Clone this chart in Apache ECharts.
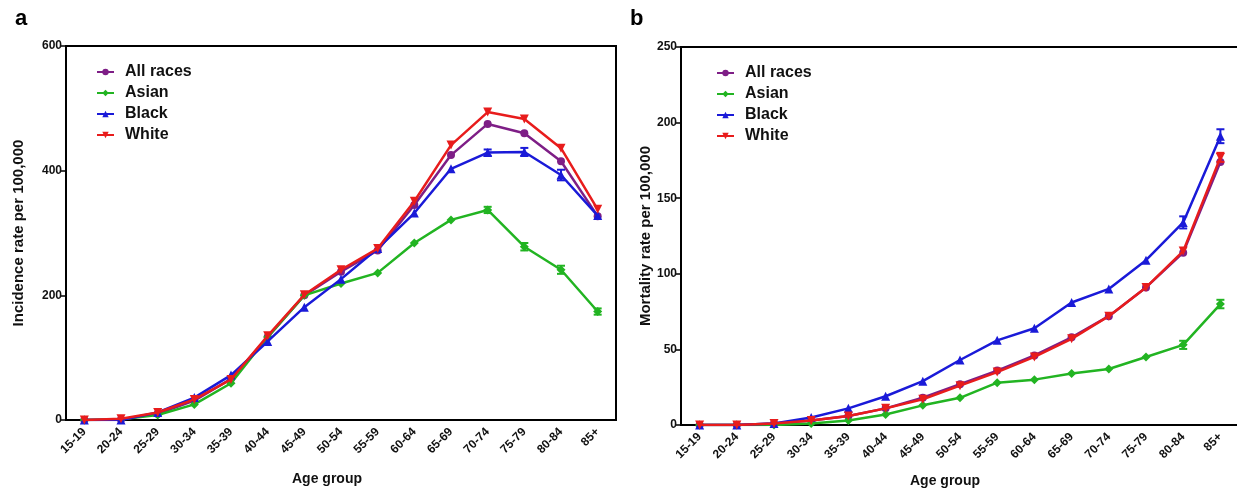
<!DOCTYPE html>
<html><head><meta charset="utf-8">
<script src="https://cdn.jsdelivr.net/npm/echarts@6/dist/echarts.min.js"></script>
<style>html,body{margin:0;padding:0;background:#fff}#c{width:1237px;height:490px}</style>
</head><body><div id="c"></div>
<script>
const categories = ['15-19','20-24','25-29','30-34','35-39','40-44','45-49','50-54','55-59','60-64','65-69','70-74','75-79','80-84','85+'];
const seriesNames = ['All races','Asian','Black','White'];

// Panel a: incidence per 100,000
const incAll   = [0, 1, 10, 31, 66, 133, 200, 238, 272, 345, 425, 475, 460, 415, 327];
const incAsian = [0, 1, 8, 25, 59, 133, 200, 219, 236, 284, 321, 337, 278, 241, 174];
const incBlack = [0, 0, 12, 36, 72, 126, 181, 226, 275, 332, 403, 429, 430, 393, 328];
const incWhite = [0, 2, 12, 33, 65, 135, 201, 241, 275, 351, 441, 494, 483, 436, 338];
// error half-widths (0 = not visible)
const incAllErr   = [0,0,0,0,0,0,0,0,0,0,0,0,0,0,0];
const incAsianErr = [0,0,0,0,0,0,0,0,0,0,0,5,6,6.5,5];
const incBlackErr = [0,0,0,0,0,0,0,0,0,0,0,5,6.5,8.5,0];
const incWhiteErr = [0,0,0,0,0,0,0,0,0,0,0,0,0,0,0];

// Panel b: mortality per 100,000
const morAll   = [0, 0, 1, 3, 6, 11, 18, 27, 36, 46, 58, 72, 91, 114, 174];
const morAsian = [0, 0, 0, 1, 3, 7, 13, 18, 28, 30, 34, 37, 45, 53, 80];
const morBlack = [0, 0, 1, 5, 11, 19, 29, 43, 56, 64, 81, 90, 109, 134, 191];
const morWhite = [0, 0, 1, 3, 6, 11, 17, 26, 35, 45, 57, 72, 91, 115, 177];
const morAllErr   = [0,0,0,0,0,0,0,0,0,0,0,0,0,0,0];
const morAsianErr = [0,0,0,0,0,0,0,0,0,0,0,0,0,2.7,2.8];
const morBlackErr = [0,0,0,0,0,0,0,0,0,0,0,0,0,4,4.6];
const morWhiteErr = [0,0,0,0,0,0,0,0,0,0,0,0,0,0,3];

const incTicks = [0, 200, 400, 600];
const morTicks = [0, 50, 100, 150, 200, 250];

const colors = ['#7E1E86', '#22B422', '#1A1AD8', '#E81C1C'];
const symbols = ['circle', 'diamond', 'triangle', 'path://M0,0 L10,0 L5,10 Z'];
const symbolSizes = [8, 9, 9, 9];

const FONT = 'Liberation Sans, Arial, sans-serif';

const chart = echarts.init(document.getElementById('c'));

function makeSeries(gridIdx, vals, errs) {
  const out = [];
  vals.forEach((v, k) => {
    out.push({
      name: seriesNames[k], type: 'line', xAxisIndex: gridIdx, yAxisIndex: gridIdx,
      data: v, symbol: symbols[k], symbolSize: symbolSizes[k], showSymbol: true,
      lineStyle: { color: colors[k], width: 2.5 }, itemStyle: { color: colors[k] },
      z: 3 + k, animation: false
    });
    out.push({
      type: 'custom', xAxisIndex: gridIdx, yAxisIndex: gridIdx, z: 3 + k,
      data: v.map((y, i) => [i, y, errs[k][i]]),
      encode: { x: 0, y: 1 }, silent: true, animation: false,
      renderItem: function (params, api) {
        const e = api.value(2);
        if (!e) return null;
        const i = api.value(0), y = api.value(1);
        const hi = api.coord([i, y + e]);
        const lo = api.coord([i, y - e]);
        const hw = 4;
        const st = { stroke: colors[k], lineWidth: 2 };
        return { type: 'group', children: [
          { type: 'line', shape: { x1: hi[0], y1: hi[1], x2: lo[0], y2: lo[1] }, style: st },
          { type: 'line', shape: { x1: hi[0]-hw, y1: hi[1], x2: hi[0]+hw, y2: hi[1] }, style: st },
          { type: 'line', shape: { x1: lo[0]-hw, y1: lo[1], x2: lo[0]+hw, y2: lo[1] }, style: st }
        ]};
      }
    });
  });
  return out;
}

function xAxisCfg(idx) {
  return {
    type: 'category', gridIndex: idx, data: categories, boundaryGap: true,
    axisLine: { lineStyle: { color: '#000', width: 2 } },
    axisTick: { alignWithLabel: true, length: 5, lineStyle: { color: '#000', width: 1.5 } },
    axisLabel: { rotate: 45, margin: 10, color: '#111', fontFamily: FONT, fontWeight: 'bold', fontSize: 12, interval: 0 },
    splitLine: { show: false }
  };
}
function yAxisCfg(idx, ticks, name, gap) {
  return {
    type: 'value', gridIndex: idx, min: ticks[0], max: ticks[ticks.length - 1],
    interval: ticks[1] - ticks[0],
    name: name, nameLocation: 'middle', nameGap: gap,
    nameTextStyle: { color: '#111', fontFamily: FONT, fontWeight: 'bold', fontSize: 15 },
    axisLine: { show: true, lineStyle: { color: '#000', width: 2 } },
    axisTick: { show: true, length: 5, lineStyle: { color: '#000', width: 1.5 } },
    axisLabel: { color: '#111', fontFamily: FONT, fontWeight: 'bold', fontSize: 12, margin: 4 },
    splitLine: { show: false }
  };
}
function legendCfg(left, top) {
  return {
    data: seriesNames, orient: 'vertical', left: left, top: top, padding: 0,
    itemWidth: 17, itemHeight: 8, itemGap: 5,
    textStyle: { color: '#111', fontFamily: FONT, fontWeight: 'bold', fontSize: 16, padding: [0, 0, 0, 6] },
    selectedMode: false
  };
}

const option = {
  backgroundColor: '#fff',
  animation: false,
  title: [
    { text: 'a', left: 10, top: 3, textStyle: { fontFamily: FONT, fontWeight: 'bold', fontSize: 22, color: '#000' } },
    { text: 'b', left: 625, top: 3, textStyle: { fontFamily: FONT, fontWeight: 'bold', fontSize: 22, color: '#000' } }
  ],
  grid: [
    { left: 66, top: 46, width: 550, height: 374, outerBoundsMode: 'none', show: true, borderColor: '#000', borderWidth: 2, backgroundColor: 'transparent' },
    { left: 681, top: 47, width: 558, height: 378, outerBoundsMode: 'none', show: true, borderColor: '#000', borderWidth: 2, backgroundColor: 'transparent' }
  ],
  xAxis: [xAxisCfg(0), xAxisCfg(1)],
  yAxis: [yAxisCfg(0, incTicks, 'Incidence rate per 100,000', 40), yAxisCfg(1, morTicks, 'Mortality rate per 100,000', 28)],
  legend: [legendCfg(96, 64), legendCfg(716, 65)],
  graphic: [
    { type: 'text', left: 292, top: 472, style: { text: 'Age group', font: 'bold 14px ' + FONT, fill: '#111' } },
    { type: 'text', left: 910, top: 474, style: { text: 'Age group', font: 'bold 14px ' + FONT, fill: '#111' } }
  ],
  series: [].concat(
    makeSeries(0, [incAll, incAsian, incBlack, incWhite], [incAllErr, incAsianErr, incBlackErr, incWhiteErr]),
    makeSeries(1, [morAll, morAsian, morBlack, morWhite], [morAllErr, morAsianErr, morBlackErr, morWhiteErr])
  )
};
chart.setOption(option);
</script>
</body></html>
